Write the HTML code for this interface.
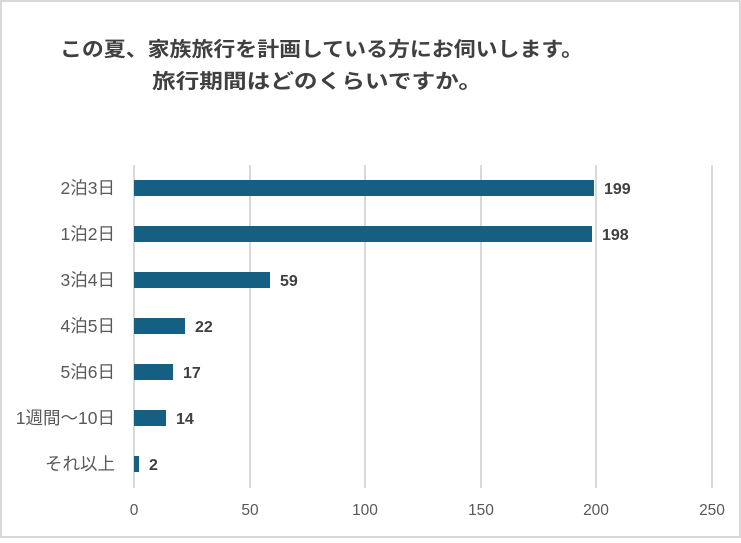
<!DOCTYPE html>
<html><head><meta charset="utf-8"><style>
html,body{margin:0;padding:0;background:#fff;}
body{width:741px;height:538px;overflow:hidden;}
</style></head><body>
<svg width="741" height="538" xmlns="http://www.w3.org/2000/svg" font-family="'Liberation Sans','Noto Sans CJK JP',sans-serif">
<rect x="1" y="1" width="739" height="536" fill="#fff" stroke="#d9d9d9" stroke-width="2"/>
<g font-size="20" font-weight="bold" fill="#404040">
<text x="60" y="56" textLength="523" lengthAdjust="spacingAndGlyphs">この夏、家族旅行を計画している方にお伺いします。</text>
<text x="152" y="88" textLength="330" lengthAdjust="spacingAndGlyphs">旅行期間はどのくらいですか。</text>
</g>
<g stroke="#d9d9d9" stroke-width="2">
<line x1="134" y1="165" x2="134" y2="488"/>
<line x1="250" y1="165" x2="250" y2="488"/>
<line x1="365" y1="165" x2="365" y2="488"/>
<line x1="481" y1="165" x2="481" y2="488"/>
<line x1="596" y1="165" x2="596" y2="488"/>
<line x1="712" y1="165" x2="712" y2="488"/>
</g>
<g fill="#156082">
<rect x="134" y="180" width="460" height="16"/>
<rect x="134" y="226" width="458" height="16"/>
<rect x="134" y="272" width="136" height="16"/>
<rect x="134" y="318" width="51" height="16"/>
<rect x="134" y="364" width="39" height="16"/>
<rect x="134" y="410" width="32" height="16"/>
<rect x="134" y="456" width="5" height="16"/>
</g>
<g font-size="16" font-weight="bold" fill="#404040">
<text x="604" y="194">199</text>
<text x="602" y="240">198</text>
<text x="280" y="286">59</text>
<text x="195" y="332">22</text>
<text x="183" y="378">17</text>
<text x="176" y="424">14</text>
<text x="149" y="470">2</text>
</g>
<g font-size="17.5" fill="#595959" text-anchor="end">
<text x="115" y="194">2泊3日</text>
<text x="115" y="240">1泊2日</text>
<text x="115" y="286">3泊4日</text>
<text x="115" y="332">4泊5日</text>
<text x="115" y="378">5泊6日</text>
<text x="115" y="424">1週間～10日</text>
<text x="115" y="470">それ以上</text>
</g>
<g font-size="15.5" fill="#595959" text-anchor="middle">
<text x="134" y="515">0</text>
<text x="250" y="515">50</text>
<text x="365" y="515">100</text>
<text x="481" y="515">150</text>
<text x="596" y="515">200</text>
<text x="712" y="515">250</text>
</g>
</svg>
</body></html>
